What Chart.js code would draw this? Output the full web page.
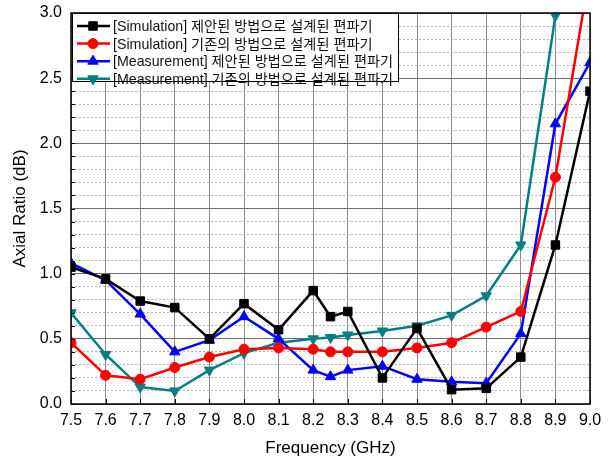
<!DOCTYPE html>
<html>
<head>
<meta charset="utf-8">
<script src="https://cdn.jsdelivr.net/npm/chart.js@4"></script>
<style>
  html, body { margin: 0; padding: 0; background: #fff; }
  #wrap { width: 610px; height: 465px; }
</style>
</head>
<body>
<div id="wrap"><canvas id="chart" width="610" height="465"></canvas></div>
<script>
// Frequency points (GHz) - note the extra point at 8.25
const freq = [7.5, 7.6, 7.7, 7.8, 7.9, 8.0, 8.1, 8.2, 8.25, 8.3, 8.4, 8.5, 8.6, 8.7, 8.8, 8.9, 9.0];

// Axial ratio (dB)
const simProposed      = [1.05, 0.96, 0.79, 0.74, 0.50, 0.77, 0.57, 0.87, 0.67, 0.71, 0.20, 0.58, 0.11, 0.12, 0.36, 1.22, 2.40];
const simConventional  = [0.47, 0.22, 0.19, 0.28, 0.36, 0.42, 0.43, 0.42, 0.40, 0.40, 0.40, 0.43, 0.47, 0.59, 0.71, 1.74, 3.32];
const measProposed     = [1.08, 0.95, 0.69, 0.40, 0.49, 0.67, 0.50, 0.26, 0.21, 0.26, 0.29, 0.19, 0.17, 0.16, 0.54, 2.15, 2.62];
const measConventional = [0.70, 0.38, 0.13, 0.10, 0.26, 0.39, 0.47, 0.50, 0.51, 0.53, 0.56, 0.60, 0.68, 0.83, 1.22, 2.98, null];

const seriesLabels = [
  '[Simulation] 제안된 방법으로 설계된 편파기',
  '[Simulation] 기존의 방법으로 설계된 편파기',
  '[Measurement] 제안된 방법으로 설계된 편파기',
  '[Measurement] 기존의 방법으로 설계된 편파기'
];

const xTitle = 'Frequency (GHz)';
const yTitle = 'Axial Ratio (dB)';

const FONT = '"Liberation Sans", Arial, sans-serif';
const LEGEND_FONT = '14.2px "Liberation Sans", "Noto Sans CJK KR", sans-serif';

function toPoints(values) {
  return freq.map((f, i) => ({ x: f, y: values[i] }));
}

function makeDataset(label, values, color, pointStyle, radius, rotation) {
  return {
    label: label,
    data: toPoints(values),
    borderColor: color,
    backgroundColor: color,
    borderWidth: 2.5,
    pointStyle: pointStyle,
    pointRadius: radius,
    pointRotation: rotation || 0,
    pointBorderWidth: 1,
    pointBorderColor: color,
    pointBackgroundColor: color,
    tension: 0,
    spanGaps: false
  };
}

// Frame around the plot plus small inward tick marks
const framePlugin = {
  id: 'frame',
  afterDatasetsDraw(chart) {
    const { ctx, chartArea } = chart;
    const { left, right, top, bottom } = chartArea;
    ctx.save();
    ctx.strokeStyle = '#000';
    ctx.lineWidth = 1;
    const minor = chart.scales.yMinor;
    minor.ticks.forEach(t => {
      const py = Math.round(minor.getPixelForValue(t.value)) + 0.5;
      ctx.beginPath();
      ctx.moveTo(left, py);
      ctx.lineTo(left + 4, py);
      ctx.stroke();
    });
    const xs = chart.scales.x;
    xs.ticks.forEach(t => {
      const px = Math.round(xs.getPixelForValue(t.value)) + 0.5;
      ctx.beginPath();
      ctx.moveTo(px, bottom);
      ctx.lineTo(px, bottom - 5);
      ctx.stroke();
    });
    ctx.lineWidth = 1.5;
    ctx.strokeRect(left, top, right - left, bottom - top);
    ctx.restore();
  }
};

// Boxed legend in the top-left corner of the plot, line sample + marker
const boxLegendPlugin = {
  id: 'boxLegend',
  afterDatasetsDraw(chart) {
    const { ctx, chartArea } = chart;
    const x0 = chartArea.left + 1;
    const y0 = chartArea.top;
    const w = 326, h = 68, rowH = 17.6;
    ctx.save();
    ctx.fillStyle = '#fff';
    ctx.fillRect(x0, y0, w, h);
    ctx.strokeStyle = '#000';
    ctx.lineWidth = 1;
    ctx.strokeRect(x0 + 0.5, y0 + 0.5, w, h);

    chart.data.datasets.forEach((ds, i) => {
      const y = y0 + 13 + i * rowH;
      ctx.strokeStyle = ds.borderColor;
      ctx.fillStyle = ds.borderColor;
      ctx.lineWidth = 2.5;
      ctx.beginPath();
      ctx.moveTo(x0 + 5, y);
      ctx.lineTo(x0 + 38, y);
      ctx.stroke();
      ctx.lineWidth = 1;
      Chart.helpers.drawPoint(ctx, {
        pointStyle: ds.pointStyle,
        rotation: ds.pointRotation,
        radius: ds.pointRadius,
        borderWidth: 1
      }, x0 + 21, y);

      ctx.fillStyle = '#111';
      ctx.font = LEGEND_FONT;
      ctx.textBaseline = 'middle';
      ctx.textAlign = 'left';
      ctx.fillText(ds.label, x0 + 41, y + 1);
    });
    ctx.restore();
  }
};

const isHalfStep = v => Math.abs(v * 2 - Math.round(v * 2)) < 1e-6;

new Chart(document.getElementById('chart'), {
  type: 'line',
  data: {
    datasets: [
      makeDataset(seriesLabels[0], simProposed, '#000000', 'rect', 6),
      makeDataset(seriesLabels[1], simConventional, '#ff0000', 'circle', 5),
      makeDataset(seriesLabels[2], measProposed, '#0000ff', 'triangle', 6),
      makeDataset(seriesLabels[3], measConventional, '#008080', 'triangle', 6, 180)
    ]
  },
  options: {
    responsive: false,
    animation: false,
    events: [],
    layout: { padding: { left: 0, right: 20, top: 13, bottom: 0 } },
    plugins: {
      legend: { display: false },
      tooltip: { enabled: false }
    },
    scales: {
      x: {
        type: 'linear',
        min: 7.5,
        max: 9.0,
        afterFit: scale => { scale.height = 61; },
        grid: { color: '#8c8c8c', lineWidth: 1, drawTicks: false },
        border: { display: false },
        ticks: {
          stepSize: 0.1,
          autoSkip: false,
          maxRotation: 0,
          padding: 7,
          color: '#000',
          font: { family: FONT, size: 16 },
          callback: v => v.toFixed(1)
        },
        title: {
          display: true,
          text: xTitle,
          color: '#000',
          font: { family: FONT, size: 17 },
          padding: { top: 0, bottom: 6 }
        }
      },
      yMinor: {
        type: 'linear',
        position: 'left',
        min: 0,
        max: 3.0,
        afterFit: scale => { scale.width = 0; },
        grid: {
          drawTicks: false,
          lineWidth: 1,
          color: ctx => isHalfStep(ctx.tick.value) ? 'rgba(0,0,0,0)' : '#b4b4b4'
        },
        border: { display: false, dash: [2, 2] },
        ticks: { stepSize: 0.1, display: false }
      },
      y: {
        type: 'linear',
        position: 'left',
        min: 0,
        max: 3.0,
        afterFit: scale => { scale.width = 71; },
        grid: { color: '#707070', lineWidth: 1, drawTicks: false },
        border: { display: false },
        ticks: {
          stepSize: 0.5,
          padding: 9,
          color: '#000',
          font: { family: FONT, size: 16, lineHeight: 0.5 },
          callback: v => v.toFixed(1)
        },
        title: {
          display: true,
          text: yTitle,
          color: '#000',
          font: { family: FONT, size: 17 },
          padding: { top: 10, bottom: 0 }
        }
      }
    }
  },
  plugins: [framePlugin, boxLegendPlugin]
});
</script>
</body>
</html>
